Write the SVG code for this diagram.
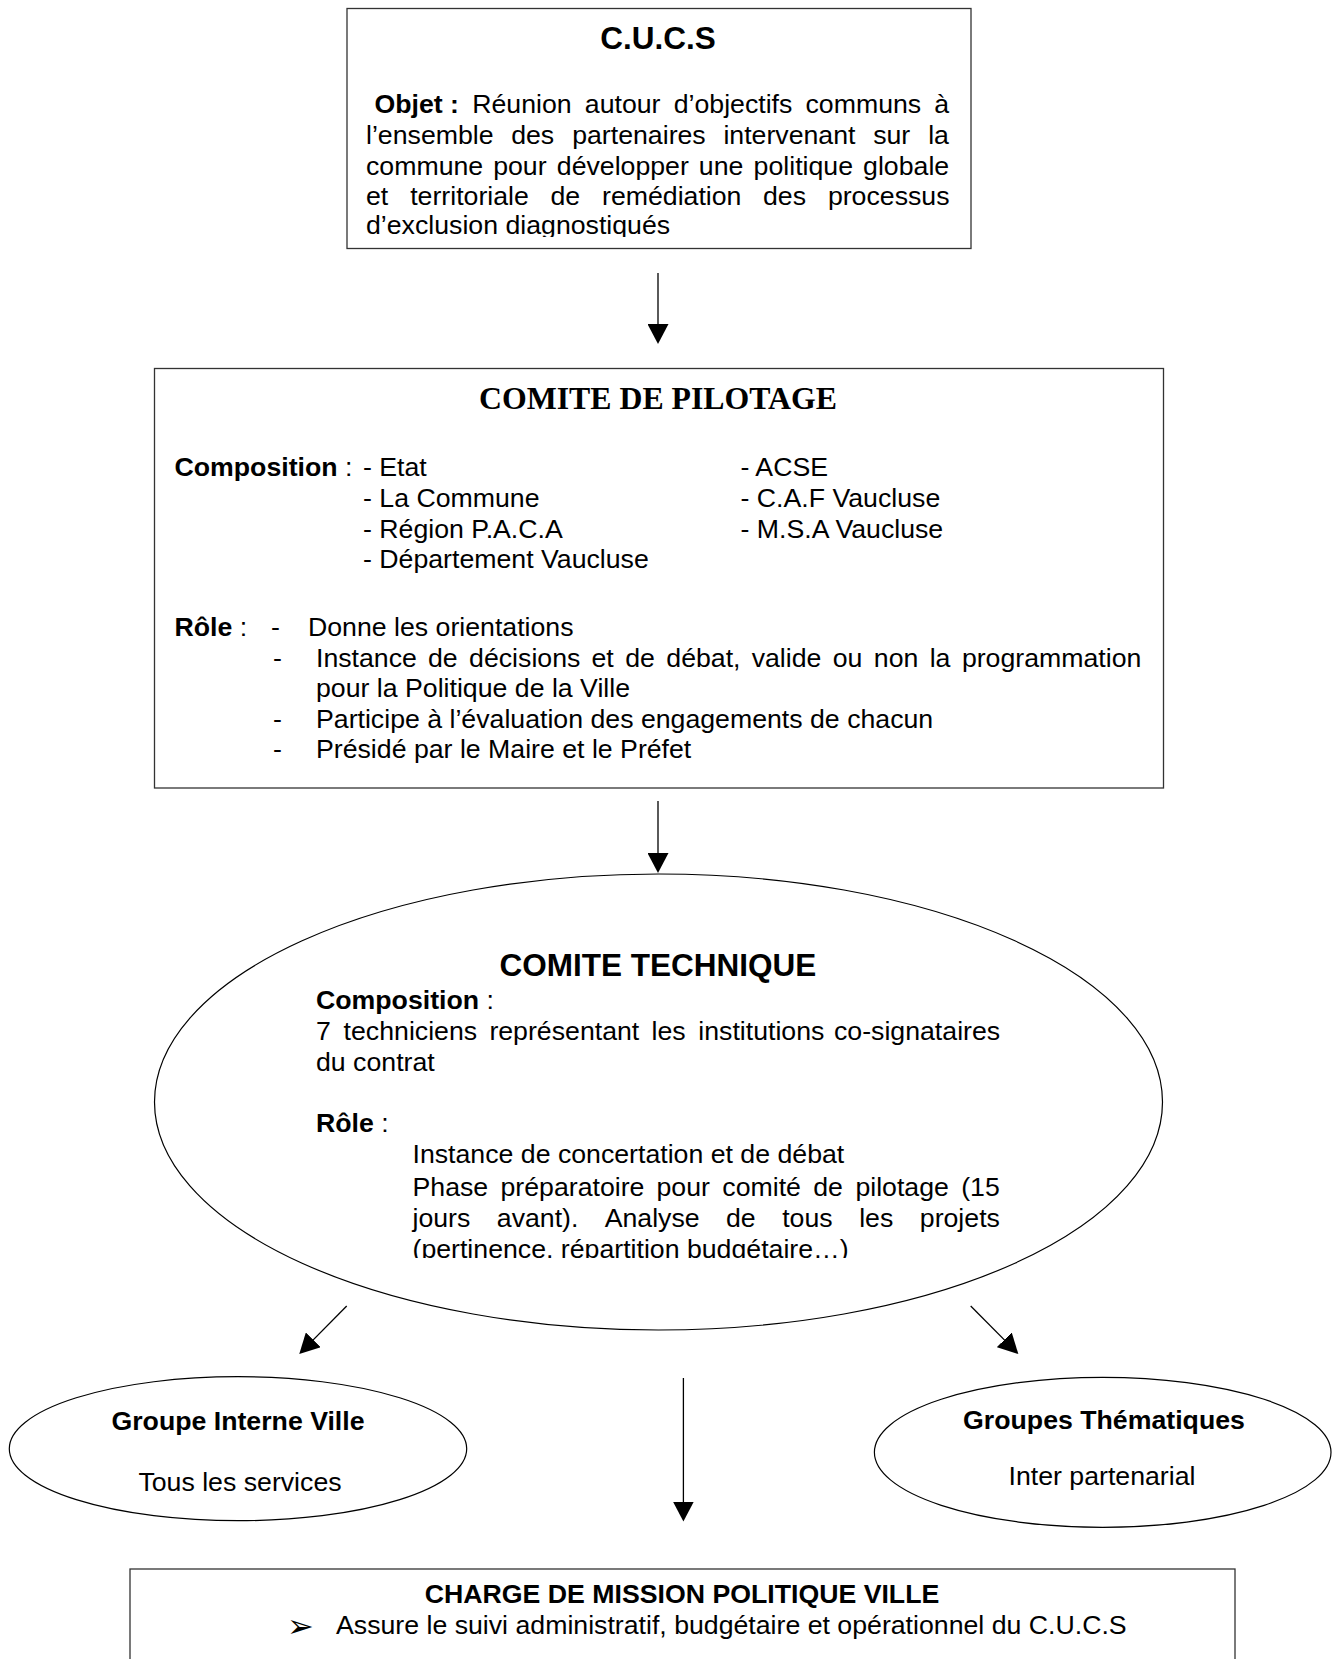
<svg xmlns="http://www.w3.org/2000/svg" width="1335" height="1659" viewBox="0 0 1335 1659">
<style>
.t{font-family:"Liberation Sans",Arial,sans-serif;font-size:26.7px;fill:#000}
.b{font-weight:bold}
.c{text-anchor:middle}
.h{font-family:"Liberation Sans",Arial,sans-serif;font-size:31.5px;font-weight:bold;text-anchor:middle;fill:#000}
.hs{font-family:"Liberation Serif","Times New Roman",serif;font-size:31.8px;font-weight:bold;text-anchor:middle;fill:#000}
.box{fill:#fff;stroke:#333;stroke-width:1.3}
.ell{fill:#fff;stroke:#000;stroke-width:1.2}
.con{stroke:#000;stroke-width:1.3;fill:none;marker-end:url(#ah)}
</style>
<defs>
<marker id="ah" markerUnits="userSpaceOnUse" markerWidth="21" markerHeight="21" refX="10" refY="10.5" orient="auto">
<path d="M0,0 L20,10.5 L0,21 z" fill="#000"/>
</marker>
<clipPath id="clipCucs"><rect x="347" y="8" width="625" height="229"/></clipPath>
<clipPath id="clipTech"><rect x="154" y="874" width="1010" height="384"/></clipPath>
</defs>
<rect width="1335" height="1659" fill="#fff"/>

<g id="cucs">
<rect class="box" x="347" y="8.5" width="624" height="240"/>
<text class="h" x="658" y="49">C.U.C.S</text>
<g clip-path="url(#clipCucs)">
<text class="t" y="113"><tspan x="374.5" class="b">Objet :</tspan><tspan x="472.2">Réunion</tspan><tspan x="584.8">autour</tspan><tspan x="673.7">d’objectifs</tspan><tspan x="805.5">communs</tspan><tspan x="934.3">à</tspan></text>
<text class="t" y="144"><tspan x="366">l’ensemble</tspan><tspan x="511.2">des</tspan><tspan x="572.2">partenaires</tspan><tspan x="723.4">intervenant</tspan><tspan x="873.2">sur</tspan><tspan x="928.2">la</tspan></text>
<text class="t" y="175"><tspan x="366">commune</tspan><tspan x="493.2">pour</tspan><tspan x="556.8">développer</tspan><tspan x="698.8">une</tspan><tspan x="753.6">politique</tspan><tspan x="863.1">globale</tspan></text>
<text class="t" y="205"><tspan x="366">et</tspan><tspan x="410.2">territoriale</tspan><tspan x="550.4">de</tspan><tspan x="602">remédiation</tspan><tspan x="763">des</tspan><tspan x="827.9">processus</tspan></text>
<text class="t" x="366" y="233.5">d’exclusion diagnostiqués</text>
</g>
</g>

<g id="comite-pilotage">
<rect class="box" x="154.5" y="368.5" width="1009" height="419.5"/>
<text class="hs" x="658" y="409">COMITE DE PILOTAGE</text>
<text class="t" x="174.5" y="476"><tspan class="b">Composition</tspan> :</text>
<text class="t" x="363" y="476">- Etat</text>
<text class="t" x="363" y="506.7">- La Commune</text>
<text class="t" x="363" y="537.5">- Région P.A.C.A</text>
<text class="t" x="363" y="568">- Département Vaucluse</text>
<text class="t" x="740.5" y="476">- ACSE</text>
<text class="t" x="740.5" y="506.7">- C.A.F Vaucluse</text>
<text class="t" x="740.5" y="537.5">- M.S.A Vaucluse</text>
<text class="t" x="174.5" y="636"><tspan class="b">Rôle</tspan> :</text>
<text class="t" x="271" y="636">-</text>
<text class="t" x="308" y="636">Donne les orientations</text>
<text class="t" x="273" y="666.7">-</text>
<text class="t" y="666.7"><tspan x="316">Instance</tspan><tspan x="428">de</tspan><tspan x="469.1">décisions</tspan><tspan x="591.5">et</tspan><tspan x="625.2">de</tspan><tspan x="666.3">débat,</tspan><tspan x="751.7">valide</tspan><tspan x="832.7">ou</tspan><tspan x="873.8">non</tspan><tspan x="929.7">la</tspan><tspan x="961.9">programmation</tspan></text>
<text class="t" x="316" y="697">pour la Politique de la Ville</text>
<text class="t" x="273" y="727.5">-</text>
<text class="t" x="316" y="727.5">Participe à l’évaluation des engagements de chacun</text>
<text class="t" x="273" y="758">-</text>
<text class="t" x="316" y="758">Présidé par le Maire et le Préfet</text>
</g>

<g id="comite-technique">
<ellipse class="ell" cx="658.5" cy="1102" rx="504" ry="228"/>
<text class="h" x="658" y="976">COMITE TECHNIQUE</text>
<g clip-path="url(#clipTech)">
<text class="t" x="316" y="1009"><tspan class="b">Composition</tspan> :</text>
<text class="t" y="1040"><tspan x="316">7</tspan><tspan x="343.6">techniciens</tspan><tspan x="489.4">représentant</tspan><tspan x="651.5">les</tspan><tspan x="698.3">institutions</tspan><tspan x="834">co-signataires</tspan></text>
<text class="t" x="316" y="1070.5">du contrat</text>
<text class="t" x="316" y="1131.5"><tspan class="b">Rôle</tspan> :</text>
<text class="t" x="412.5" y="1162.5">Instance de concertation et de débat</text>
<text class="t" y="1195.5"><tspan x="412.5">Phase</tspan><tspan x="500.5">préparatoire</tspan><tspan x="656.5">pour</tspan><tspan x="722.3">comité</tspan><tspan x="813.2">de</tspan><tspan x="855.4">pilotage</tspan><tspan x="961.2">(15</tspan></text>
<text class="t" y="1227"><tspan x="412.5">jours</tspan><tspan x="496.8">avant).</tspan><tspan x="604.7">Analyse</tspan><tspan x="726">de</tspan><tspan x="782.2">tous</tspan><tspan x="859.2">les</tspan><tspan x="919.8">projets</tspan></text>
<text class="t" x="412.5" y="1257.5">(pertinence, répartition budgétaire…)</text>
</g>
</g>

<g id="groupe-interne-ville">
<ellipse class="ell" cx="238" cy="1448.7" rx="228.7" ry="72"/>
<text class="t b c" x="238" y="1430">Groupe Interne Ville</text>
<text class="t c" x="240" y="1490.7">Tous les services</text>
</g>

<g id="groupes-thematiques">
<ellipse class="ell" cx="1102.7" cy="1452.3" rx="228.3" ry="75"/>
<text class="t b c" x="1104" y="1429.3">Groupes Thématiques</text>
<text class="t c" x="1102" y="1485">Inter partenarial</text>
</g>

<g id="charge-mission">
<rect class="box" x="130" y="1569" width="1105" height="200"/>
<text class="t b c" x="682" y="1603">CHARGE DE MISSION POLITIQUE VILLE</text>
<text x="287" y="1637" style="font-family:'DejaVu Sans',sans-serif;font-size:32px;fill:#000">➢</text>
<text class="t" x="336" y="1633.5">Assure le suivi administratif, budgétaire et opérationnel du C.U.C.S</text>
</g>

<g id="connectors">
<line class="con" x1="658" y1="273" x2="658" y2="334"/>
<line class="con" x1="658" y1="801" x2="658" y2="863"/>
<line class="con" x1="346.7" y1="1306" x2="306.3" y2="1346.9"/>
<line class="con" x1="970.7" y1="1306" x2="1011.3" y2="1346.9"/>
<line class="con" x1="683.4" y1="1378" x2="683.4" y2="1511.5"/>
</g>
</svg>
